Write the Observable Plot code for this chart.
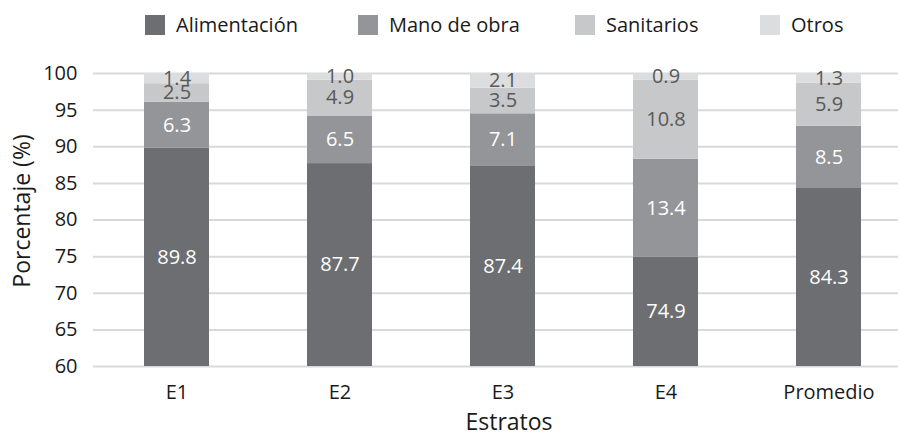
<!DOCTYPE html>
<html>
<head>
<meta charset="utf-8">
<script src="https://cdn.jsdelivr.net/npm/d3@7"></script>
<script src="https://cdn.jsdelivr.net/npm/@observablehq/plot@0.6"></script>
<style>
  body { margin: 0; background: #fff; font-family: "Open Sans", sans-serif; overflow: hidden; }
  #wrap { position: relative; width: 901px; height: 433px; }
  #legend { position: relative; height: 50px; }
  .item { position: absolute; top: 11px; display: flex; align-items: center; font-size: 20px; color: #1a1a1a; }
  .sw { width: 20px; height: 20px; margin-right: 11px; }
</style>
</head>
<body>
<div id="wrap">
  <div id="legend"></div>
  <div id="chart"></div>
</div>
<script>
const estratos = ["E1", "E2", "E3", "E4", "Promedio"];
const series = ["Alimentación", "Mano de obra", "Sanitarios", "Otros"];
const alimentacion = [89.8, 87.7, 87.4, 74.9, 84.3];
const manoDeObra = [6.3, 6.5, 7.1, 13.4, 8.5];
const sanitarios = [2.5, 4.9, 3.5, 10.8, 5.9];
const otros = [1.4, 1.0, 2.1, 0.9, 1.3];
const yTicks = [60, 65, 70, 75, 80, 85, 90, 95, 100];

const colors = ["#6d6e71", "#939598", "#c7c8ca", "#dcddde"];
const labelColors = ["#ffffff", "#ffffff", "#595959", "#595959"];
const legendLeft = [145, 358, 575, 760];

const valuesBySeries = [alimentacion, manoDeObra, sanitarios, otros];
const yMin = 60, yMax = 100;

const rows = [];
estratos.forEach((e, i) => {
  let acc = 0;
  series.forEach((s, j) => {
    const v = valuesBySeries[j][i];
    const y1 = acc, y2 = acc + v;
    acc = y2;
    const lo = Math.max(y1, yMin), hi = Math.min(y2, yMax);
    rows.push({estrato: e, serie: s, value: v, y1, y2, ym: (lo + hi) / 2, label: v.toFixed(1), lc: labelColors[j]});
  });
});

// legend
const leg = document.getElementById("legend");
series.forEach((s, j) => {
  const d = document.createElement("div");
  d.className = "item";
  d.style.left = legendLeft[j] + "px";
  d.innerHTML = `<span class="sw" style="background:${colors[j]}"></span><span>${s}</span>`;
  leg.appendChild(d);
});

const chart = Plot.plot({
  width: 901,
  height: 383,
  marginLeft: 93,
  marginRight: 3,
  marginTop: 23,
  marginBottom: 67,
  style: {fontFamily: "Open Sans, sans-serif", fontSize: "20px", color: "#1a1a1a", background: "transparent"},
  x: {domain: estratos, range: [93.7, 911.5], paddingInner: 0.6, paddingOuter: 0.3, align: 0.5, label: null},
  y: {domain: [yMin, yMax], clamp: true, label: null},
  color: {domain: series, range: colors},
  marks: [
    Plot.ruleY(yTicks, {stroke: "#d9d9d9", strokeWidth: 2}),
    Plot.barY(rows, {x: "estrato", y1: "y1", y2: "y2", fill: "serie"}),
    Plot.text(rows, {x: "estrato", y: "ym", text: "label", fill: "lc", fontSize: 20}),
    Plot.axisY(yTicks, {tickSize: 0, tickPadding: 16, label: null, fontSize: 20}),
    Plot.axisX({tickSize: 0, tickPadding: 18, label: null, fontSize: 20}),
    Plot.text(["Porcentaje (%)"], {frameAnchor: "left", textAnchor: "middle", lineAnchor: "middle", dx: -71, dy: -9, rotate: -90, fontSize: 23}),
    Plot.text(["Estratos"], {frameAnchor: "bottom", textAnchor: "middle", lineAnchor: "middle", dx: 13, dy: 56, fontSize: 23})
  ]
});
document.getElementById("chart").appendChild(chart);
</script>
</body>
</html>
